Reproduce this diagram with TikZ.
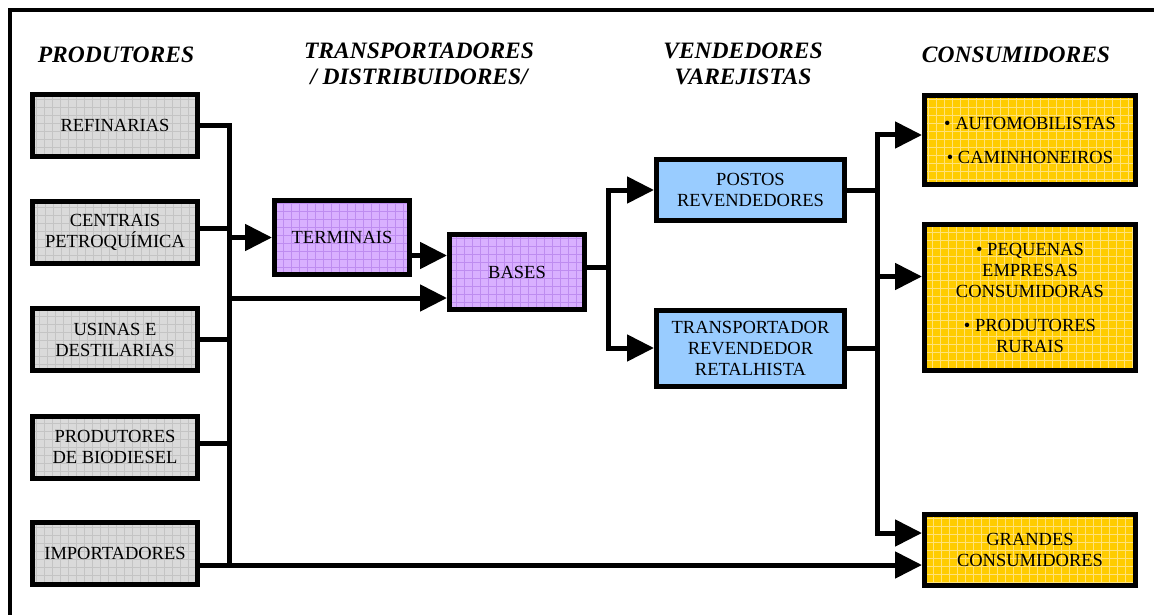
\documentclass[tikz,border=0pt]{standalone}
\usepackage{fontspec}
\setmainfont{Liberation Serif}
\usetikzlibrary{arrows.meta,calc}

\definecolor{sellblue}{HTML}{99CCFF}
\definecolor{consyellow}{HTML}{FFCC00}
\definecolor{consgrid}{HTML}{FFE27A}
\definecolor{distfill}{HTML}{D9B0FF}
\definecolor{distgrid}{HTML}{BE8CF0}
\definecolor{prodfill}{HTML}{DADADA}
\definecolor{prodgrid}{HTML}{C4C4C4}

\tikzset{
  box/.style={draw, line width=5pt, align=center, inner sep=0pt,
    font=\fontsize{18.5}{21}\selectfont},
  gridded/.style 2 args={fill=#1,
    path picture={\draw[#2, line width=0.9pt]
      (path picture bounding box.south west) grid[step=8pt]
      (path picture bounding box.north east);}},
  prodbox/.style={box, gridded={prodfill}{prodgrid},
    minimum width=165pt, minimum height=62pt},
  distbox/.style={box, gridded={distfill}{distgrid}, minimum width=135pt},
  vendbox/.style={box, fill=sellblue, minimum width=188pt},
  consbox/.style={box, gridded={consyellow}{consgrid}, minimum width=211pt},
  hdr/.style={align=center, font=\fontsize{23.5}{26}\selectfont\bfseries\itshape},
  conn/.style={line width=5pt, line cap=rect, line join=miter},
  arr/.style={conn, -{Triangle[length=27pt,width=26pt]}},
}

\begin{document}
\begin{tikzpicture}[x=1pt, y=-1pt]
\useasboundingbox (0,0) rectangle (1154,615);

% outer frame
\draw[line width=4.5pt] (10,640) -- (10,10) -- (1180,10);

% column headings
\node[hdr] (hP) at (116,55) {PRODUTORES};
\node[hdr] (hT) at (419,64) {TRANSPORTADORES\\/ DISTRIBUIDORES/};
\node[hdr] (hV) at (743,64) {VENDEDORES\\VAREJISTAS};
\node[hdr] (hC) at (1016,55) {CONSUMIDORES};

% producers
\node[prodbox] (REF) at (115,125.5) {REFINARIAS};
\node[prodbox] (CENT) at (115,232.5) {CENTRAIS\\PETROQUÍMICA};
\node[prodbox] (USI) at (115,339.5) {USINAS E\\DESTILARIAS};
\node[prodbox] (BIO) at (115,447) {PRODUTORES\\DE BIODIESEL};
\node[prodbox] (IMP) at (115,553) {IMPORTADORES};

% transporters / distributors
\node[distbox, minimum height=74.5pt] (TERM) at (342,237.5) {TERMINAIS};
\node[distbox, minimum height=75.5pt] (BASES) at (517,272) {BASES};

% retail sellers
\node[vendbox, minimum height=61.5pt] (POSTOS) at (750.5,190) {POSTOS\\REVENDEDORES};
\node[vendbox, minimum height=76pt] (TRANSP) at (750.5,348) {TRANSPORTADOR\\REVENDEDOR\\RETALHISTA};

% consumers
\node[consbox, minimum height=89.5pt] (AUTO) at (1030,140)
  {• AUTOMOBILISTAS\\[13pt]• CAMINHONEIROS};
\node[consbox, minimum height=146.5pt] (PEQ) at (1030,297.5)
  {• PEQUENAS\\EMPRESAS\\CONSUMIDORAS\\[13pt]• PRODUTORES\\RURAIS};
\node[consbox, minimum height=71.5pt] (GC) at (1030,550) {GRANDES\\CONSUMIDORES};

% attachment points
\coordinate (busL) at (229,125);
\coordinate (busLend) at (229,565);
\coordinate (outCENT) at ($(CENT.east)+(0,-4)$);
\coordinate (outBIO) at ($(BIO.east)+(0,-4)$);
\coordinate (outIMP) at ($(IMP.east)+(0,12)$);
\coordinate (outTERM) at ($(TERM.east)+(0,18)$);
\coordinate (inBASES) at ($(BASES.west)+(0,26)$);
\coordinate (outBASES) at ($(BASES.east)+(0,-5)$);
\coordinate (busM) at (608,190);
\coordinate (busR) at (877,135);
\coordinate (inPEQ) at ($(PEQ.west)+(0,-21)$);
\coordinate (inGC) at ($(GC.west)+(0,-17)$);

% producers' collector bus
\draw[conn] (REF.east) -| (busLend);
\draw[conn] (outCENT) -- (outCENT -| busL);
\draw[conn] (USI.east) -- (USI.east -| busL);
\draw[conn] (outBIO) -- (outBIO -| busL);
\draw[arr] (outIMP) -- (outIMP -| GC.west);

% into terminals and bases
\draw[arr] (busL |- TERM.west) -- (TERM.west);
\draw[arr] (outTERM) -- (outTERM -| BASES.west);
\draw[arr] (inBASES -| busL) -- (inBASES);

% bases to retail sellers
\draw[conn] (outBASES) -- (outBASES -| busM);
\draw[arr] (busM) -- (busM -| POSTOS.west);
\draw[arr] (busM) |- (TRANSP.west);

% retail sellers to consumers
\draw[conn] (POSTOS.east) -- (POSTOS.east -| busR);
\draw[conn] (TRANSP.east) -- (TRANSP.east -| busR);
\draw[arr] (busR) -- (busR -| AUTO.west);
\draw[arr] (inPEQ -| busR) -- (inPEQ);
\draw[arr] (busR) |- (inGC);
\end{tikzpicture}
\end{document}
